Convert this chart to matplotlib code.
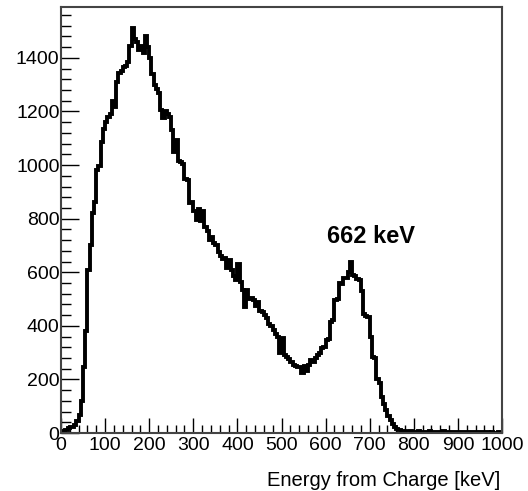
import numpy as np
import matplotlib
matplotlib.use("Agg")
import matplotlib.pyplot as plt

plt.rcParams['font.family'] = ['Liberation Sans', 'DejaVu Sans']

# 5 keV bins from 0 to 1000 keV
bin_width = 5
counts = [
    3, 8, 12, 20, 22, 24, 28, 45, 68, 118,                       # 0-50
    245, 380, 610, 700, 822, 862, 983, 995, 1085, 1135,          # 50-100
    1160, 1180, 1190, 1240, 1215, 1310, 1345, 1350, 1365, 1370,  # 100-150
    1385, 1445, 1510, 1470, 1460, 1430, 1445, 1420, 1480, 1440,  # 150-200
    1400, 1340, 1300, 1285, 1270, 1205, 1175, 1200, 1190, 1180,  # 200-250
    1130, 1050, 1095, 1015, 1010, 1005, 948, 945, 860, 862,      # 250-300
    830, 795, 835, 790, 830, 770, 755, 720, 730, 710,            # 300-350
    700, 675, 660, 650, 655, 615, 645, 610, 585, 570,            # 350-400
    630, 565, 535, 470, 535, 500, 505, 495, 475, 490,            # 400-450
    455, 450, 440, 430, 405, 400, 385, 370, 360, 300,            # 450-500
    355, 290, 285, 275, 265, 255, 250, 245, 248, 225,            # 500-550
    250, 230, 255, 272, 265, 280, 290, 300, 318, 320,            # 550-600
    348, 350, 415, 420, 495, 500, 560, 555, 580, 578,            # 600-650
    600, 640, 590, 585, 575, 572, 530, 445, 438, 432,            # 650-700
    360, 285, 280, 200, 185, 135, 110, 85, 65, 48,               # 700-750
    35, 22, 15, 11, 8, 6, 5, 4, 6, 5,                            # 750-800
    4, 5, 6, 4, 3, 5, 4, 6, 3, 4,                                # 800-850
    5, 3, 4, 6, 5, 3, 4, 5, 3, 4,                                # 850-900
    3, 4, 2, 3, 4, 3, 2, 3, 4, 2,                                # 900-950
    3, 2, 3, 2, 1, 2, 0, 1, 3, 2,                                # 950-1000
]
edges = np.arange(0, 1000 + bin_width, bin_width)

peak_label = "662 keV"
x_title = "Energy from Charge [keV]"

fig = plt.figure(figsize=(5.28, 4.91), dpi=100)
ax = fig.add_axes([61/528, 1-433/491, (502-61)/528, (433-7)/491])

ax.stairs(counts, edges, color='black', lw=2.8, baseline=None)

ax.set_xlim(0, 1000)
ax.set_ylim(0, 1590)
ax.set_xticks(np.arange(0, 1001, 100))
ax.set_xticks(np.arange(0, 1001, 20), minor=True)
ax.set_yticks(np.arange(0, 1401, 200))
ax.set_yticks(np.arange(0, 1590, 40), minor=True)

ax.tick_params(which='both', direction='in', top=False, right=False,
               labelsize=14, color='black')
ax.tick_params(axis='x', which='major', length=11, width=1, pad=3)
ax.tick_params(axis='x', which='minor', length=6, width=1)
ax.tick_params(axis='y', which='major', length=13, width=1, pad=1)
ax.tick_params(axis='y', which='minor', length=7, width=1)

for s in ax.spines.values():
    s.set_color('#444444')
    s.set_linewidth(1.5)

ax.text(703, 733, peak_label, fontsize=17, fontweight='bold',
        ha='center', va='center')

ax.set_xlabel(x_title, fontsize=14.5, ha='right')
ax.xaxis.set_label_coords(0.995, -0.09)

fig.savefig("out.png", dpi=100)
